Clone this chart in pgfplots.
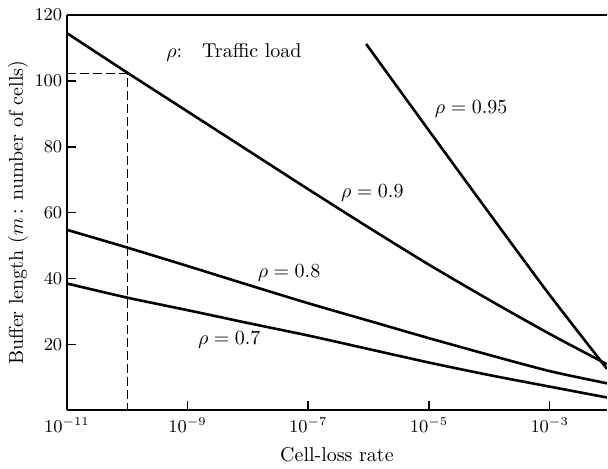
\documentclass[border=0pt]{standalone}
\usepackage{pgfplots}
\pgfplotsset{compat=1.18}
\begin{document}
\begin{tikzpicture}
\begin{axis}[
  scale only axis, width=270.5pt, height=198pt,
  xmode=log, xmin=1e-11, xmax=8.91e-3, ymin=0, ymax=120,
  axis x line=box, axis y line=left, axis line style={-, line width=1pt},
  xtick={1e-11,1e-9,1e-7,1e-5,1e-3}, ytick={20,40,60,80,100,120},
  xminorticks=false, yminorticks=false,
  xtick pos=left, ytick pos=left,
  tick align=inside, major tick length=4.5pt,
  tick style={line width=0.8pt, black},
  tick label style={font=\small},
  yticklabel style={xshift=1.2pt},
  xlabel={Cell-loss rate},
  ylabel={Buffer length ($m$\,: number of cells)},
  every axis x label/.style={at={(axis description cs:0.5,-0.111)}, anchor=center},
  every axis y label/.style={at={(axis description cs:-0.0906,0.5)}, anchor=center, rotate=90},
  curve/.style={black, line width=1.3pt, mark=none, smooth, tension=0.4},
  clip=true,
]
\coordinate (ll) at (rel axis cs:0,0);
\addplot[black, mark=none, line width=0.6pt, dash pattern=on 4.5pt off 2pt] coordinates {(1e-11,102.2) (1e-10,102.2) (1e-10,0)};
% rho = 0.95
\addplot[curve] coordinates {(9.1e-7,111.2) (1e-5,84.9) (1e-4,59.8) (1e-3,35.0) (8.91e-3,12.6)};
% rho = 0.9
\addplot[curve] coordinates {(1e-11,114.5) (1e-10,102.5) (1e-9,90.7) (1e-8,78.9) (1e-7,67.1) (1e-6,55.5) (1e-5,44.2) (1e-4,33.5) (1e-3,23.2) (8.91e-3,14.0)};
% rho = 0.8
\addplot[curve] coordinates {(1e-11,54.8) (1e-10,49.4) (1e-9,43.8) (1e-8,38.1) (1e-7,32.5) (1e-6,27.2) (1e-5,21.9) (1e-4,16.8) (1e-3,11.9) (8.91e-3,8.2)};
% rho = 0.7
\addplot[curve] coordinates {(1e-11,38.5) (1e-10,34.2) (1e-9,30.4) (1e-8,26.5) (1e-7,22.7) (1e-6,18.6) (1e-5,14.5) (1e-4,10.7) (1e-3,7.2) (8.91e-3,3.9)};
\node[anchor=west] at (axis cs:3.4e-10,108.5) {$\rho$:\quad Traffic load};
\node at (axis cs:5.0e-5,91.5) {$\rho = 0.95$};
\node at (axis cs:1.15e-6,66) {$\rho = 0.9$};
\node at (axis cs:4.8e-8,41.8) {$\rho = 0.8$};
\node at (axis cs:4.9e-9,21.2) {$\rho = 0.7$};
\end{axis}
\path (ll) ++(-33.5pt,-27.5pt);
\path (ll) ++(0,205.5pt);
\end{tikzpicture}
\end{document}
